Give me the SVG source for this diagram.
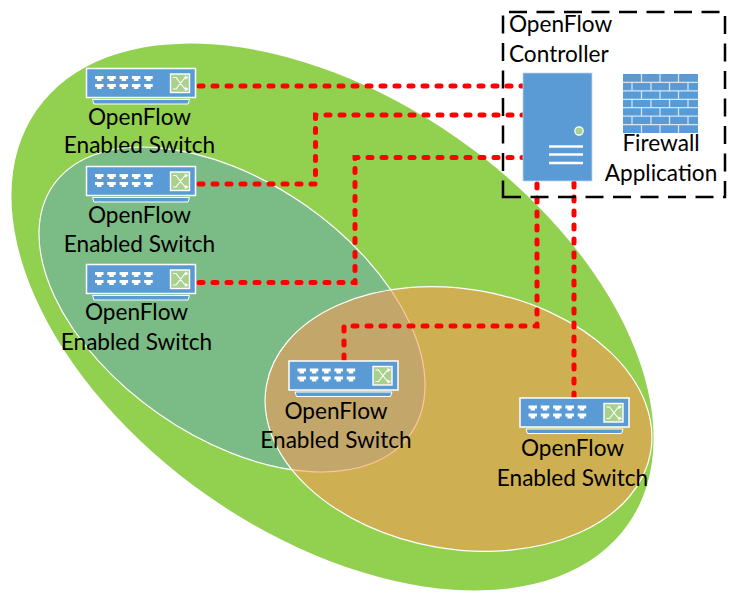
<svg xmlns="http://www.w3.org/2000/svg" xmlns:xlink="http://www.w3.org/1999/xlink" width="739" height="601" viewBox="0 0 739 601">
<style>
text{font-family:"Lato","Liberation Sans",sans-serif;font-size:22.6px;fill:#000;text-anchor:middle}
.l{text-anchor:start}
.zone{stroke:#fff;stroke-width:1.2}
.conn{fill:none;stroke:#f00;stroke-width:5;stroke-linecap:round;stroke-dasharray:4 10}
.wl{stroke:#fff;stroke-width:2.5;fill:none}
</style>
<defs>
<g id="sw">
<rect x="0.5" y="0.5" width="109" height="29" fill="#5b9bd5" stroke="#fff" stroke-width="1.5"/>
<path d="M6.500 31.500H103.500L102 36H8Z" fill="#5b9bd5" stroke="#fff" stroke-width="1"/>
<rect x="84.500" y="6" width="19" height="18.500" fill="#a9d18e" stroke="#fff" stroke-width="1.4"/>
<path d="M87 9.500h3l9 11.500h2M87 21h3l9-11.500h2M99 8l2.500 1.500-2.500 1.500M99 19.500l2.500 1.500-2.500 1.500" fill="none" stroke="#fff" stroke-width="1.100"/>
<g id="ports" fill="#fff">
<path id="p" d="M9 8h8.500v3h-2v2h-4.500v-2h-2zM9 16h8.500v3h-2v2h-4.500v-2h-2z"/>
<use xlink:href="#p" href="#p" x="12.300"/>
<use xlink:href="#p" href="#p" x="24.600"/>
<use xlink:href="#p" href="#p" x="36.900"/>
<use xlink:href="#p" href="#p" x="49.200"/>
</g>
</g>
</defs>
<ellipse id="zone-outer" cx="332.500" cy="317" rx="361" ry="218" transform="rotate(35 332.500 317)" fill="#92d050"/>
<ellipse id="zone-left" class="zone" cx="232" cy="309.500" rx="217.700" ry="127.500" transform="rotate(34.800 232 309.500)" fill="#5b9bd5" fill-opacity="0.4"/>
<ellipse id="zone-right" class="zone" cx="458.500" cy="419" rx="195" ry="130" transform="rotate(9.800 458.500 419)" fill="#ff9654" fill-opacity="0.55"/>
<g id="connectors">
<path class="conn" d="M199 86H523"/>
<path class="conn" d="M199 184H315.500V115H523"/>
<path class="conn" d="M199 282.500H355V157.500H523"/>
<path class="conn" d="M344 359V326H537V182"/>
<path class="conn" d="M574 397V182"/>
</g>
<g id="controller-box"><path d="M503 197H725V12H503Z" fill="none" stroke="#000" stroke-width="2.500" stroke-dasharray="18 9.500"/>
<text class="l" x="509" y="32">OpenFlow</text><text class="l" x="509" y="62">Controller</text></g>
<g id="server">
<rect x="523" y="73" width="69" height="108" fill="#5b9bd5" stroke="#bdd7ee" stroke-width="0.800"/>
<circle cx="579" cy="131" r="4.200" fill="#a9d18e" stroke="#fff" stroke-width="1.200"/>
<path class="wl" d="M549 146.500H583M549 154.500H583M549 163H583"/>
</g>
<g id="firewall">
<rect x="623" y="74" width="75" height="59" fill="#5b9bd5"/>
<path d="M623 82.400H698M623 90.900H698M623 99.300H698M623 107.700H698M623 116.100H698M623 124.600H698M641.500 74V82.400M660 74V82.400M678.500 74V82.400M632 82.400V90.900M651 82.400V90.900M669.500 82.400V90.900M688 82.400V90.900M641.500 90.900V99.300M660 90.900V99.300M678.500 90.900V99.300M632 99.300V107.700M651 99.300V107.700M669.500 99.300V107.700M688 99.300V107.700M641.500 107.700V116.100M660 107.700V116.100M678.500 107.700V116.100M632 116.100V124.600M651 116.100V124.600M669.500 116.100V124.600M688 116.100V124.600M641.500 124.600V133M660 124.600V133M678.500 124.600V133" fill="none" stroke="#d6e6f4" stroke-width="1.200"/>
<text x="661" y="151">Firewall</text><text x="661" y="181">Application</text>
</g>
<g id="switch-1"><use xlink:href="#sw" href="#sw" x="86" y="68"/><text x="139.500" y="125">OpenFlow</text><text x="139.500" y="153">Enabled Switch</text></g>
<g id="switch-2"><use xlink:href="#sw" href="#sw" x="86" y="166"/><text x="139.500" y="223">OpenFlow</text><text x="139.500" y="252">Enabled Switch</text></g>
<g id="switch-3"><use xlink:href="#sw" href="#sw" x="86" y="264"/><text x="136.500" y="320">OpenFlow</text><text x="136.500" y="350">Enabled Switch</text></g>
<g id="switch-4"><use xlink:href="#sw" href="#sw" x="288.500" y="360.500"/><text x="336" y="419">OpenFlow</text><text x="336" y="448">Enabled Switch</text></g>
<g id="switch-5"><use xlink:href="#sw" href="#sw" x="519.500" y="397.500"/><text x="572.500" y="456">OpenFlow</text><text x="572.500" y="486">Enabled Switch</text></g>
</svg>
